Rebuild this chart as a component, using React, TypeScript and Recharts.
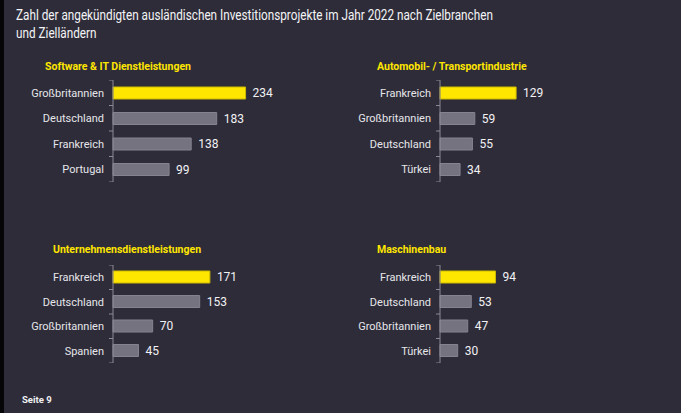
import { BarChart, Bar, XAxis, YAxis, Cell, LabelList } from "recharts"

const softwareCountries = ["Großbritannien", "Deutschland", "Frankreich", "Portugal"]
const softwareValues = [234, 183, 138, 99]

const autoCountries = ["Frankreich", "Großbritannien", "Deutschland", "Türkei"]
const autoValues = [129, 59, 55, 34]

const serviceCountries = ["Frankreich", "Deutschland", "Großbritannien", "Spanien"]
const serviceValues = [171, 153, 70, 45]

const machineCountries = ["Frankreich", "Deutschland", "Großbritannien", "Türkei"]
const machineValues = [94, 53, 47, 30]

const BG = "#2e2c39"
const YELLOW = "#ffe600"
const GREY = "#75737f"
const FONT = "'Roboto', 'Liberation Sans', sans-serif"
const AXIS_W = 110
const PLOT_W = 200

function Panel(props: {
  title: string
  titleLeft: number
  titleTop: number
  left: number
  top: number
  height: number
  max: number
  countries: string[]
  values: number[]
}) {
  const { countries, values, height } = props
  const data = countries.map((c, i) => ({ name: c, value: values[i] }))
  const band = height / countries.length

  const renderTick = (p: any) => {
    const { y, payload, index } = p
    return (
      <g>
        <text x={AXIS_W - 9} y={y} dy={4} textAnchor="end" fill="#e6e6ea" fontSize={11} fontFamily={FONT}>
          {payload.value}
        </text>
        <line x1={AXIS_W - 4} x2={AXIS_W} y1={y - band / 2} y2={y - band / 2} stroke="#8a8994" />
        {index === countries.length - 1 && (
          <line x1={AXIS_W - 4} x2={AXIS_W} y1={y + band / 2} y2={y + band / 2} stroke="#8a8994" />
        )}
      </g>
    )
  }

  return (
    <>
      <div
        style={{
          position: "absolute",
          left: props.titleLeft,
          top: props.titleTop,
          color: YELLOW,
          fontWeight: "bold",
          fontSize: 10.5,
          fontFamily: FONT,
          whiteSpace: "nowrap",
        }}
      >
        {props.title}
      </div>
      <div style={{ position: "absolute", left: props.left - AXIS_W, top: props.top }}>
        <BarChart
          width={AXIS_W + PLOT_W + 40}
          height={height}
          data={data}
          layout="vertical"
          margin={{ top: 0, right: 40, bottom: 0, left: 0 }}
        >
          <XAxis type="number" domain={[0, props.max]} hide />
          <YAxis
            type="category"
            dataKey="name"
            width={AXIS_W}
            axisLine={{ stroke: "#8a8994" }}
            tickLine={false}
            tick={renderTick}
            interval={0}
          />
          <Bar dataKey="value" barSize={12} isAnimationActive={false}>
            {data.map((d, i) => (
              <Cell
                key={d.name}
                fill={i === 0 ? YELLOW : GREY}
                stroke={i === 0 ? "#cdb900" : "#85838f"}
                strokeWidth={1}
              />
            ))}
            <LabelList dataKey="value" position="right" offset={7} fill="#f2f2f4" fontSize={12} fontFamily={FONT} />
          </Bar>
        </BarChart>
      </div>
    </>
  )
}

export default function App() {
  return (
    <div
      style={{
        position: "absolute",
        left: 0,
        top: 0,
        width: 681,
        height: 413,
        background: BG,
        overflow: "hidden",
        fontFamily: FONT,
      }}
    >
      <div style={{ position: "absolute", left: 0, top: 0, width: 4, height: 413, background: "#050507" }} />
      <div
        style={{
          position: "absolute",
          left: 16,
          top: 7,
          color: "#f4f4f6",
          fontSize: 14.5,
          lineHeight: "18px",
          whiteSpace: "nowrap",
          transform: "scaleX(0.81)",
          transformOrigin: "0 0",
        }}
      >
        Zahl der angekündigten ausländischen Investitionsprojekte im Jahr 2022 nach Zielbranchen
        <br />
        und Zielländern
      </div>

      <Panel
        title="Software & IT Dienstleistungen"
        titleLeft={45}
        titleTop={60}
        left={113}
        top={80}
        height={102}
        max={353}
        countries={softwareCountries}
        values={softwareValues}
      />
      <Panel
        title="Automobil- / Transportindustrie"
        titleLeft={377}
        titleTop={60}
        left={440}
        top={80}
        height={102}
        max={339}
        countries={autoCountries}
        values={autoValues}
      />
      <Panel
        title="Unternehmensdienstleistungen"
        titleLeft={53}
        titleTop={243}
        left={113}
        top={265}
        height={98}
        max={353}
        countries={serviceCountries}
        values={serviceValues}
      />
      <Panel
        title="Maschinenbau"
        titleLeft={377}
        titleTop={243}
        left={440}
        top={265}
        height={98}
        max={339}
        countries={machineCountries}
        values={machineValues}
      />

      <div
        style={{
          position: "absolute",
          left: 22,
          top: 394,
          color: "#f0f0f2",
          fontSize: 9.5,
          fontWeight: "bold",
        }}
      >
        Seite 9
      </div>
    </div>
  )
}
